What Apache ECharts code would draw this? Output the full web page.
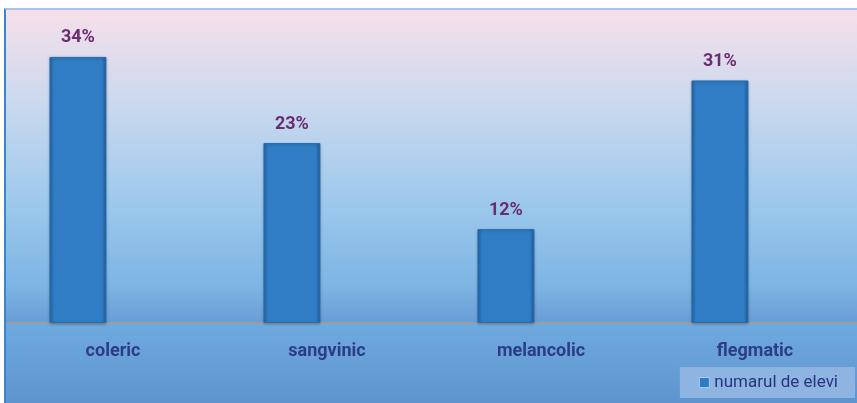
<!DOCTYPE html>
<html>
<head>
<meta charset="utf-8">
<script src="https://cdn.jsdelivr.net/npm/echarts@6/dist/echarts.min.js"></script>
<style>
  html, body {
    margin: 0;
    padding: 0;
    background: #fff;
  }
  .frame {
    position: absolute;
    left: 4px;
    top: 8px;
    width: 853px;
    height: 395px;
    box-sizing: border-box;
    border-left: 2px solid #3b84d4;
    border-top: 2px solid #a9c4e8;
    overflow: hidden;
  }
  #chart {
    width: 856px;
    height: 393px;
  }
</style>
</head>
<body>
<div class="frame">
  <div id="chart"></div>
</div>
<script>
// temperamente - procent elevi
const categories = ["coleric", "sangvinic", "melancolic", "flegmatic"];
const values = [34, 23, 12, 31];
const seriesName = "numarul de elevi";

let chart = echarts.init(document.getElementById("chart"));

// bara cu margini mai inchise, ca in Excel
let barColor = new echarts.graphic.LinearGradient(0, 0, 1, 0, [
  { offset: 0, color: "#22629f" },
  { offset: 0.08, color: "#307dc5" },
  { offset: 0.92, color: "#307dc5" },
  { offset: 1, color: "#1e5a94" },
]);

chart.setOption({
  backgroundColor: new echarts.graphic.LinearGradient(0, 0, 0, 1, [
    { offset: 0, color: "#f6e0ea" },
    { offset: 0.25, color: "#c8d8ee" },
    { offset: 0.5, color: "#9cc8ec" },
    { offset: 0.7, color: "#7db5e4" },
    { offset: 0.795, color: "#6a9dd6" },
    { offset: 0.8, color: "#6eaadf" },
    { offset: 1, color: "#5f94ce" },
  ]),
  textStyle: {
    fontFamily: "Roboto",
  },
  grid: {
    left: 0,
    right: 0,
    top: 0,
    bottom: 80,
  },
  legend: {
    data: [seriesName],
    right: 7,
    bottom: 5,
    icon: "rect",
    itemWidth: 10,
    itemHeight: 10,
    itemGap: 4,
    padding: [7, 17, 7, 19],
    backgroundColor: "#8eb4e2",
    textStyle: {
      fontSize: 17,
      color: "#27357f",
    },
    itemStyle: {
      color: "#2f7bc3",
      borderColor: "#9fd0f5",
      borderWidth: 1,
    },
  },
  xAxis: {
    type: "category",
    data: categories,
    axisTick: { show: false },
    axisLine: {
      lineStyle: { color: "#9a9f9c", width: 2 },
    },
    axisLabel: {
      margin: 19,
      fontSize: 18,
      fontWeight: "bold",
      color: "#2d3c88",
    },
  },
  yAxis: {
    type: "value",
    min: 0,
    max: 40,
    show: false,
    splitLine: { show: false },
  },
  series: [
    {
      name: seriesName,
      type: "bar",
      data: values,
      barWidth: 57,
      barGap: "23%",
      itemStyle: {
        color: barColor,
        borderColor: "#2a6db0",
        borderWidth: 1,
        shadowBlur: 3,
        shadowColor: "rgba(0,0,0,0.25)",
        shadowOffsetY: 1,
      },
      label: {
        show: true,
        position: "top",
        distance: 10,
        formatter: "{c}%",
        fontSize: 18,
        fontWeight: "bold",
        color: "#6a2d72",
      },
    },
    {
      // seria goala - doar pentru a pastra asezarea barelor
      name: "gol",
      type: "bar",
      data: categories.map(() => "-"),
      barWidth: 57,
    },
  ],
});
</script>
</body>
</html>
